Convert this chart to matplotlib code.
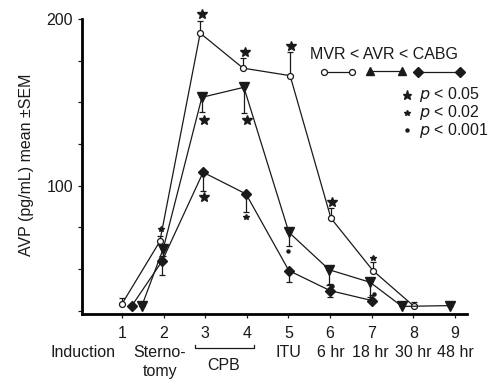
import numpy as np
import matplotlib
matplotlib.use('Agg')
import matplotlib.pyplot as plt
from matplotlib.transforms import blended_transform_factory

plt.rcParams['font.family'] = ['Liberation Sans', 'DejaVu Sans']

# --- datos ---
mvr_x = [1.00, 1.91, 2.88, 3.91, 5.04, 6.02, 7.03, 8.02]
mvr_y = [29, 66.5, 191.5, 170.5, 166, 80.5, 49, 27.5]
mvr_err = [3.5, 3, 7, 6, 14, 6, 5, 2.5]

avr_x = [1.48, 1.99, 2.92, 3.93, 5.01, 5.98, 6.96, 7.73, 8.88]
avr_y = [28, 62, 153, 159, 72, 49.5, 42, 27.5, 28]
avr_err = [0, 4, 9, 15.5, 8.5, 9, 9, 0, 0]

cabg_x = [1.24, 1.96, 2.95, 3.98, 5.01, 6.00, 7.01]
cabg_y = [28, 54.5, 108, 95, 49, 37, 31]
cabg_err_lo = [0, 8, 11.5, 11, 7, 4, 0]
cabg_err_hi = [0, 3, 0, 0, 0, 4, 3.5]

# marcas de significancia (x, y)
p05_x = [2.92, 3.96, 5.07, 6.05, 2.97, 4.00, 2.98]
p05_y = [203, 180, 184, 90, 139.5, 139.5, 93]
p02_x = [1.93, 7.03, 3.98]
p02_y = [74, 56.5, 81]
p001_x = [5.0, 6.05, 7.05]
p001_y = [60.5, 40, 35]

num_labels = ['1', '2', '3', '4', '5', '6', '7', '8', '9']
time_labels = ['Induction', 'Sterno-\ntomy', '', '', 'ITU', '6 hr', '18 hr', '30 hr', '48 hr']
time_x = [0.06, 1.91, 3, 4, 5.0, 6.02, 6.96, 8.0, 9.0]

col = '#1a1a1a'
fs = 11.5

fig = plt.figure(figsize=(5, 3.89), dpi=100)
ax = fig.add_axes([0.164, 0.193, 0.77, 0.801])

# lineas
ax.plot(mvr_x, mvr_y, '-', color=col, lw=0.9, marker='o', ms=4.3,
        mfc='white', mec=col, mew=0.9, zorder=3)
ax.errorbar(mvr_x, mvr_y, yerr=[np.zeros(len(mvr_err)), mvr_err], fmt='none',
            ecolor=col, elinewidth=0.9, capsize=2.5, capthick=0.9, zorder=2)

ax.plot(avr_x, avr_y, '-', color=col, lw=0.9, marker='v', ms=7.5,
        mfc=col, mec=col, zorder=3)
ax.errorbar(avr_x, avr_y, yerr=[avr_err, np.zeros(len(avr_err))], fmt='none',
            ecolor=col, elinewidth=0.9, capsize=2.5, capthick=0.9, zorder=2)

ax.plot(cabg_x, cabg_y, '-', color=col, lw=0.9, marker='D', ms=5.5,
        mfc=col, mec=col, zorder=3)
ax.errorbar(cabg_x, cabg_y, yerr=[cabg_err_lo, cabg_err_hi], fmt='none',
            ecolor=col, elinewidth=0.9, capsize=2.5, capthick=0.9, zorder=2)

# significancia
ax.plot(p05_x, p05_y, '*', color=col, ms=7, ls='none', clip_on=False)
ax.plot(p02_x, p02_y, '*', color=col, ms=3.8, ls='none')
ax.plot(p001_x, p001_y, 'o', color=col, ms=2.2, ls='none')

# ejes
ax.set_xlim(0.04, 9.29)
ax.set_ylim(23, 210)
ax.spines['top'].set_visible(False)
ax.spines['right'].set_visible(False)
ax.spines['left'].set_bounds(23, 200)
ax.spines['left'].set_linewidth(2)
ax.spines['bottom'].set_linewidth(2)
ax.set_yticks([25, 50, 75, 100, 125, 150, 175, 200])
ax.set_yticklabels(['', '', '', '100', '', '', '', '200'])
ax.set_xticks(range(1, 10))
ax.set_xticklabels(num_labels)
ax.tick_params(axis='both', direction='out', length=3, width=0.9, labelsize=fs,
               colors=col)
ax.tick_params(axis='x', pad=6)
ax.set_ylabel('AVP (pg/mL) mean \u00b1SEM', fontsize=fs, color=col)
ax.yaxis.set_label_coords(-0.125, 0.48)

# etiquetas de tiempo
trans = blended_transform_factory(ax.transData, ax.transAxes)
for x, lab in zip(time_x, time_labels):
    if lab:
        ax.text(x, -0.1, lab, transform=trans, ha='center', va='top',
                fontsize=fs, color=col, linespacing=1.3)

# corchete CPB
ax.plot([2.75, 2.75, 4.17, 4.17], [-0.100, -0.110, -0.110, -0.100],
        transform=trans, color=col, lw=0.9, clip_on=False)
ax.text(3.45, -0.142, 'CPB', transform=trans, ha='center', va='top',
        fontsize=fs, color=col)

# leyenda dibujada a mano
ax.text(0.592, 0.831, 'MVR < AVR < CABG', transform=ax.transAxes,
        ha='left', va='center', fontsize=fs, color=col)
ax.plot([0.629, 0.701], [0.776, 0.776], transform=ax.transAxes, color=col,
        lw=0.9, marker='o', ms=4.3, mfc='white', mec=col, mew=0.9)
ax.plot([0.748, 0.831], [0.779, 0.779], transform=ax.transAxes, color=col,
        lw=0.9, marker='^', ms=6, mfc=col, mec=col)
ax.plot([0.873, 0.982], [0.776, 0.776], transform=ax.transAxes, color=col,
        lw=0.9, marker='D', ms=5, mfc=col, mec=col)

sig_marks = [('*', 6.5), ('*', 3.8), ('o', 2.2)]
sig_text = ['0.05', '0.02', '0.001']
sig_y = [0.703, 0.645, 0.590]
for (m, s), t, y in zip(sig_marks, sig_text, sig_y):
    ax.plot([0.844], [y], m, color=col, ms=s, transform=ax.transAxes)
    ax.text(0.875, y, r'$\it{p}$ < ' + t, transform=ax.transAxes,
            ha='left', va='center', fontsize=fs, color=col)

plt.savefig('out.png', dpi=100)
